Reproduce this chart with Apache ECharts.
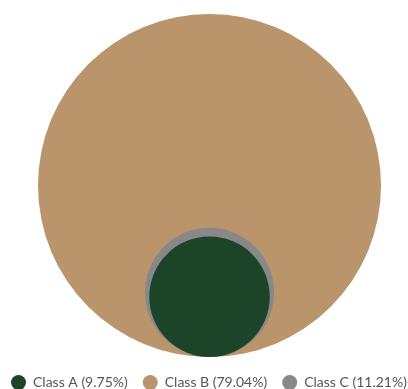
<!DOCTYPE html>
<html><head><meta charset="utf-8">
<script src="https://cdn.jsdelivr.net/npm/echarts@6/dist/echarts.min.js"></script>
<style>html,body{margin:0;padding:0;background:#fff}#c{width:408px;height:389px}</style>
</head><body><div id="c"></div>
<script>
var categories = ['Class A', 'Class B', 'Class C'];
var values = [9.75, 79.04, 11.21];
var colors = ['#1c4428', '#ba946b', '#888888'];

var radii = values.map(function (v) { return Math.sqrt(v); });
var R = Math.max.apply(null, radii);
var names = categories.map(function (c, i) { return c + ' (' + values[i].toFixed(2) + '%)'; });

// draw order: largest first
var order = values.map(function (v, i) { return i; }).sort(function (a, b) { return values[b] - values[a]; });

var series = order.map(function (i, k) {
  var r = radii[i];
  return {
    type: 'custom',
    name: names[i],
    z: 2 + k,
    itemStyle: { color: colors[i] },
    data: [[0, r, r]],
    renderItem: function (params, api) {
      var c = api.coord([api.value(0), api.value(1)]);
      var s = api.size([api.value(2), api.value(2)]);
      return {
        type: 'circle',
        shape: { cx: c[0], cy: c[1], r: s[0] },
        style: { fill: colors[i] }
      };
    }
  };
});

var chart = echarts.init(document.getElementById('c'));
chart.setOption({
  animation: false,
  grid: { left: 38, top: 14, width: 343, height: 343 },
  xAxis: { type: 'value', min: -R, max: R, show: false },
  yAxis: { type: 'value', min: 0, max: 2 * R, show: false },
  legend: {
    data: names.map(function (n) { return { name: n, icon: 'circle' }; }),
    top: 375,
    left: 11,
    padding: 0,
    itemWidth: 15,
    itemHeight: 15,
    itemGap: 15,
    textStyle: { fontFamily: 'Lato', fontSize: 14, color: '#555', padding: [0, 0, 0, 2] }
  },
  series: series
});
</script></body></html>
